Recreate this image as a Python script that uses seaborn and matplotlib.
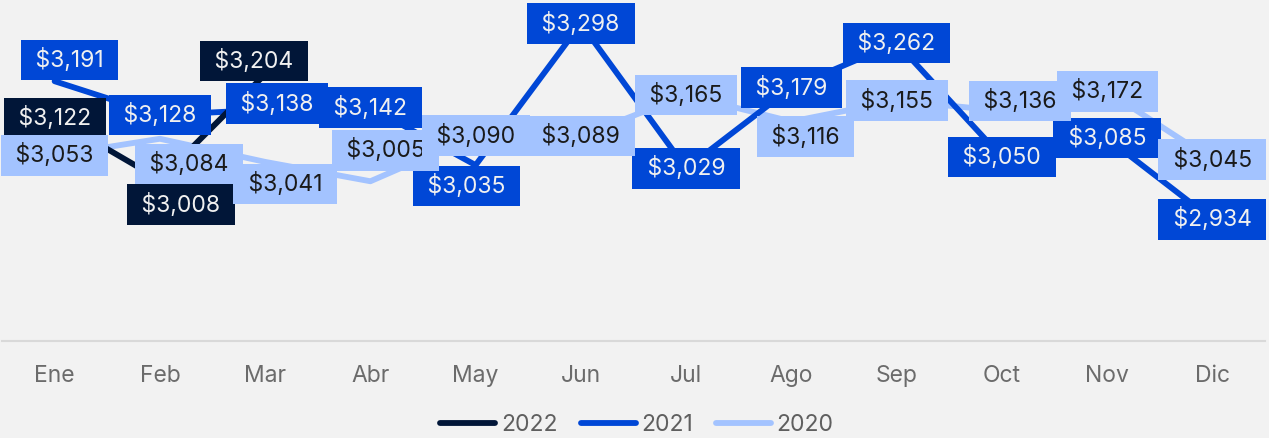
import matplotlib
matplotlib.use("Agg")
import matplotlib.pyplot as plt
import seaborn as sns
import pandas as pd
import numpy as np
from matplotlib.lines import Line2D

months = ["Ene", "Feb", "Mar", "Abr", "May", "Jun", "Jul", "Ago", "Sep", "Oct", "Nov", "Dic"]
series_names = ["2022", "2021", "2020"]
v2022 = [3122, 3008, 3204]
v2021 = [3191, 3128, 3138, 3142, 3035, 3298, 3029, 3179, 3262, 3050, 3085, 2934]
v2020 = [3053, 3084, 3041, 3005, 3090, 3089, 3165, 3116, 3155, 3136, 3172, 3045]

colors = {"2022": "#011638", "2021": "#0047d6", "2020": "#a3c3ff"}
text_colors = {"2022": "#f0f0f0", "2021": "#f0f0f0", "2020": "#1a1a1a"}

# label offsets in pixels (dx, dy) relative to the point
offsets = {
    "2022": [(0, 0), (21, -25), (-11, 13)],
    "2021": [(15, 21), (0, 0), (12, 6), (0, 0), (-9, -21), (0, 0), (0, 0), (0, 0), (0, 0), (0, 0), (0, 0), (0, 0)],
    "2020": [(0, 0), (29, -25), (20, -22), (15, 31), (0, 0), (0, 0), (0, 0), (14, -15), (0, 0), (18, 10), (0, 0), (0, 0)],
}

rows = []
for name, vals in zip(series_names, [v2022, v2021, v2020]):
    for m, v in zip(months, vals):
        rows.append({"Mes": m, "Serie": name, "Valor": v})
df = pd.DataFrame(rows)

sns.set_theme(style="white")
plt.rcParams["font.family"] = ["Inter", "DejaVu Sans"]

W, H = 1269, 438
fig = plt.figure(figsize=(W / 100, H / 100), dpi=100, facecolor="#f2f2f2")
ax = fig.add_axes([2 / W, (H - 341) / H, 1263 / W, 341 / H])
ax.set_facecolor("#f2f2f2")

sns.lineplot(data=df, x="Mes", y="Valor", hue="Serie", hue_order=["2020", "2021", "2022"],
             palette=colors, linewidth=4.2, ax=ax, legend=False, sort=False)
for ln in ax.get_lines():
    ln.set_solid_capstyle("round")
    ln.set_solid_joinstyle("round")

ax.set_xlim(-0.5, 11.5)
ax.set_ylim(2708, 3342)

for name, vals in zip(["2021", "2022", "2020"], [v2021, v2022, v2020]):
    for i, v in enumerate(vals):
        dx, dy = offsets[name][i]
        ax.annotate(f" ${v:,} ", xy=(i, v), xytext=(dx, dy), textcoords="offset pixels",
                    ha="center", va="center", fontsize=16.5, fontweight="normal",
                    color=text_colors[name],
                    bbox=dict(boxstyle="square,pad=0.36", fc=colors[name], ec="none"),
                    zorder=5)

for s in ["top", "right", "left"]:
    ax.spines[s].set_visible(False)
ax.spines["bottom"].set_color("#d9d9d9")
ax.spines["bottom"].set_linewidth(1.5)
ax.set_yticks([])
ax.set_xlabel("")
ax.set_ylabel("")
ax.tick_params(axis="x", length=0, pad=17, labelsize=16.5, labelcolor="#6b6b6b")

handles = [Line2D([0], [0], color=colors[n], lw=4.2, solid_capstyle="round") for n in series_names]
fig.legend(handles, series_names, loc="center", bbox_to_anchor=(637 / W, 1 - 425 / H), ncol=3,
           frameon=False, prop={"size": 16.5}, labelcolor="#5f5f5f",
           handlelength=2.4, handletextpad=0.25, columnspacing=1.0)

fig.savefig("out.png", dpi=100, facecolor=fig.get_facecolor())
